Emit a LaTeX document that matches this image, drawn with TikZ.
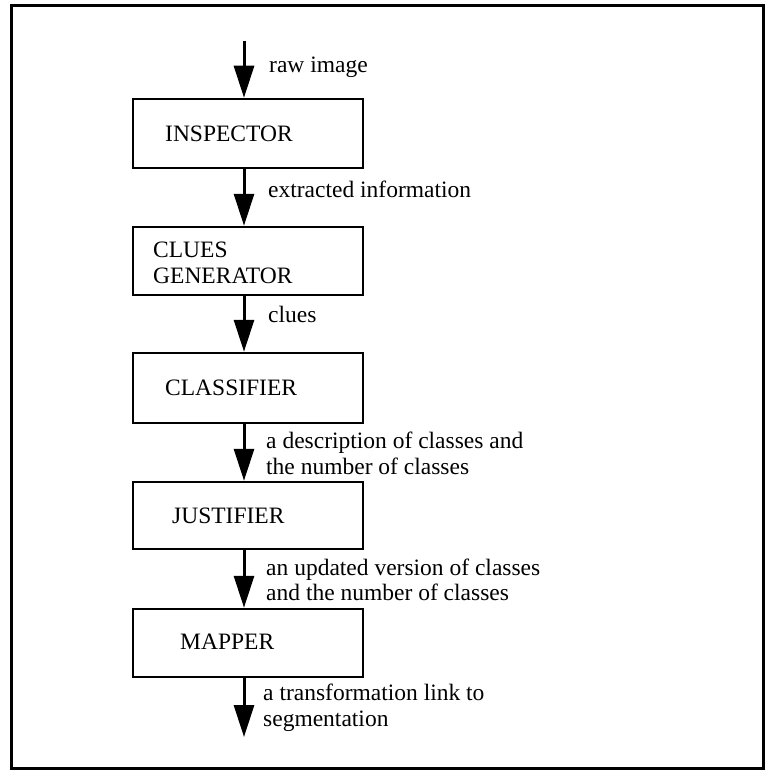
\documentclass[tikz,border=0pt]{standalone}
\usepackage{fontspec}
\setmainfont{Liberation Serif}
\usetikzlibrary{arrows.meta}
\begin{document}
\begin{tikzpicture}[x=1pt,y=-1pt,
  every node/.style={font=\fontsize{23.5}{26}\selectfont, inner sep=0pt},
  box/.style={draw, line width=2.5pt, minimum width=230pt, minimum height=69pt},
  lbl/.style={anchor=base west},
  arr/.style={line width=3pt, -{Triangle[length=32pt,width=20pt]}}]
\useasboundingbox (0,0) rectangle (765,770);
\draw[line width=3pt] (11,6) -- (763,6) -- (763,768) -- (11,768) -- cycle;
% boxes
\node[box] (insp) at (248,133.5) {};
\node[box, minimum height=68pt] (clue) at (248,261) {};
\node[box, minimum height=70pt] (clas) at (248,388) {};
\node[box, minimum height=67pt] (just) at (248,515.5) {};
\node[box, minimum height=68pt] (mapp) at (248,643) {};
% box texts
\node[lbl] (inspT) at (165,142) {INSPECTOR};
\node[lbl] (clueT1) at (153,257) {CLUES};
\node[lbl] (clueT2) at (153,283) {GENERATOR};
\node[lbl] (clasT) at (165,395) {CLASSIFIER};
\node[lbl] (justT) at (172,523) {JUSTIFIER};
\node[lbl] (mappT) at (180,649) {MAPPER};
% arrows
\coordinate (ax) at (244,0);
\coordinate (in) at (244,41);
\coordinate (out) at (244,737);
\draw[arr] (in) -- (insp.north -| ax);
\draw[arr] (insp.south -| ax) -- (clue.north -| ax);
\draw[arr] (clue.south -| ax) -- (clas.north -| ax);
\draw[arr] (clas.south -| ax) -- (just.north -| ax);
\draw[arr] (just.south -| ax) -- (mapp.north -| ax);
\draw[arr] (mapp.south -| ax) -- (out);
% labels
\node[lbl] (l1) at (269,73) {raw image};
\node[lbl] (l2) at (268,197) {extracted information};
\node[lbl] (l3) at (268,322) {clues};
\node[lbl] (l4a) at (266,448) {a description of classes and};
\node[lbl] (l4b) at (266,474) {the number of classes};
\node[lbl] (l5a) at (266,575) {an updated version of classes};
\node[lbl] (l5b) at (266,600) {and the number of classes};
\node[lbl] (l6a) at (263,700) {a transformation link to};
\node[lbl] (l6b) at (263,726) {segmentation};
\end{tikzpicture}
\end{document}
